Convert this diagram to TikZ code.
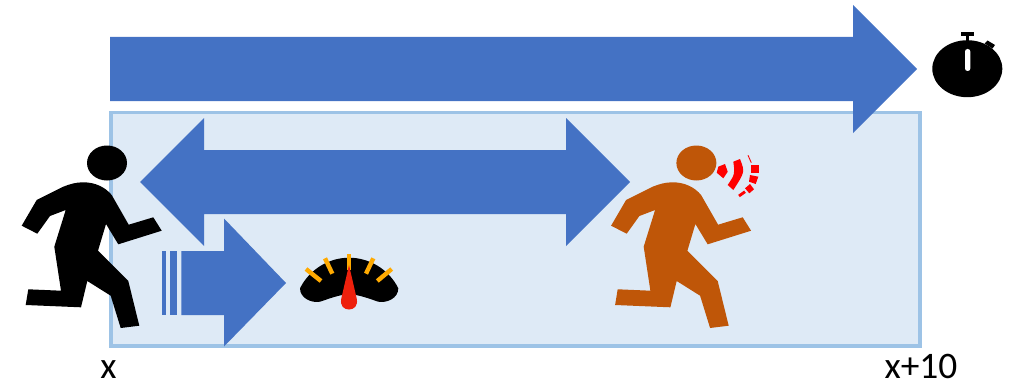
\documentclass[tikz,border=0pt]{standalone}
\usepackage{fontspec}
\setmainfont{Carlito}
\usetikzlibrary{positioning}
\definecolor{arrowblue}{RGB}{68,114,196}
\definecolor{zonefill}{RGB}{222,234,246}
\definecolor{zoneedge}{RGB}{157,195,230}
\definecolor{chaser}{RGB}{191,86,8}
\definecolor{tickamber}{RGB}{255,170,0}
\definecolor{needlered}{RGB}{238,32,12}
\newcommand{\runnerpath}{(36.7,200)--(21.7,225.7)--(37.3,233.7)--(50,216)--(65.7,210)--(54.3,246.7)
  --(61,290.7)--(28.3,289.3)--(25.7,305)--(81,307.3)--(87.3,281)--(110.7,295.7)--(120.7,328)
  --(139.3,325.7)--(128.3,281)--(98,250.7)--(106,224)--(118.3,244.3)--(161.7,230.7)--(153.3,217.3)
  --(128.7,224.7)--(111.7,195) .. controls (105,187) and (95,182.3) .. (83.3,182.3)
  .. controls (76,182.3) and (70,184) .. (63.3,186.7)--cycle
  (107,163) ellipse [x radius=20,y radius=17.5]}
\begin{document}
\begin{tikzpicture}[x=0.02cm,y=-0.02cm,
    bigarrow/.style={fill=arrowblue,draw=none},
    tick/.style={tickamber,line width=2.5pt},
    wave/.style={fill=red,draw=none},
    poslabel/.style={font=\fontsize{21.3}{25}\selectfont,anchor=base,inner sep=0pt}]
\useasboundingbox (0,0) rectangle (1013,385);
% ================= zone and arrows =================
\draw[zoneedge,fill=zonefill,line width=2.1pt] (111,112.5) rectangle (920,346);
\fill[bigarrow] (110,37)--(853,37)--(853,5)--(917,69)--(853,133)--(853,101)--(110,101)--cycle;
\fill[bigarrow] (140,182)--(204,118)--(204,150)--(566,150)--(566,118)--(630,182)
  --(566,246)--(566,214)--(204,214)--(204,246)--cycle;
% striped arrow towards the gauge
\fill[bigarrow] (162,251) rectangle (166,315);
\fill[bigarrow] (170,251) rectangle (177.3,315);
\fill[bigarrow] (181.3,251)--(224,251)--(224,218.5)--(286,283)--(224,346.5)--(224,315)--(181.3,315)--cycle;
% ================= runners =================
\fill[black] \runnerpath;
\begin{scope}[xshift=11.79cm]
  \fill[chaser] \runnerpath;
\end{scope}
% shout
\fill[wave] (716.7,172.7)--(718.3,166.7)--(725,164)--(727.7,171.7)--(723.3,178.3)--cycle;
\fill[wave] (733.3,161.7)--(740,159) .. controls (745,172) .. (733.3,190)--(727.7,185) .. controls (735,174) .. cycle;
\fill[wave] (751,165)--(759,165)--(759,173.3)--(751,173.3)--cycle;
\fill[wave] (750,175)--(758.3,176.7)--(755.7,184)--(749,181.7)--cycle;
\fill[wave] (745,188.3)--(750,184)--(754,189.3)--(749.3,193.3)--cycle;
\draw[red,line width=1.6pt] (739,196)--(745,191.7);
\draw[red,line width=0.5pt] (748,155.3)--(751.3,162.7);
% ================= gauge =================
\fill[black] (300,288.3) .. controls (310,268.3) and (330,257.7) .. (349,257.7)
  .. controls (368.3,257.7) and (388.3,268.3) .. (398.3,288.3)
  .. controls (398.3,298.3) and (386.7,303.3) .. (378.3,301.7)
  .. controls (370,299) and (358.3,294.3) .. (349,294.3)
  .. controls (340,294.3) and (328.3,299) .. (320,301.7)
  .. controls (311.7,303.3) and (300,298.3) .. (300,288.3)--cycle;
\foreach \xa/\ya/\xb/\yb in {306/269/321/281,325/258.3/332.3/273.7,349/254.3/349/270,
    373.3/258.3/366/273.7,391.7/269/377.3/281}
  \draw[tick] (\xa,\ya)--(\xb,\yb);
\fill[needlered] (349,265)--(341.2,299) .. controls (340,306) and (344,309.5) .. (349,309.5)
  .. controls (354,309.5) and (358,306) .. (356.8,299)--cycle;
% ================= stopwatch =================
\fill[black] (967.3,68.7) ellipse [x radius=35,y radius=28.5];
\fill[black] (961,31.7) rectangle (974.3,36);
\fill[black] (965.7,36) rectangle (969.3,42);
\fill[black] (984.5,43.5)--(987.5,40.5)--(995,45)--(992.5,48.5)--cycle;
\fill[white,rounded corners=1.4pt] (965,49) rectangle (970.3,71);
% ================= positions =================
\node[poslabel] (labX) at (108.5,378) {x};
\node[poslabel] (labXten) at (921,378) {x+10};
\end{tikzpicture}
\end{document}
